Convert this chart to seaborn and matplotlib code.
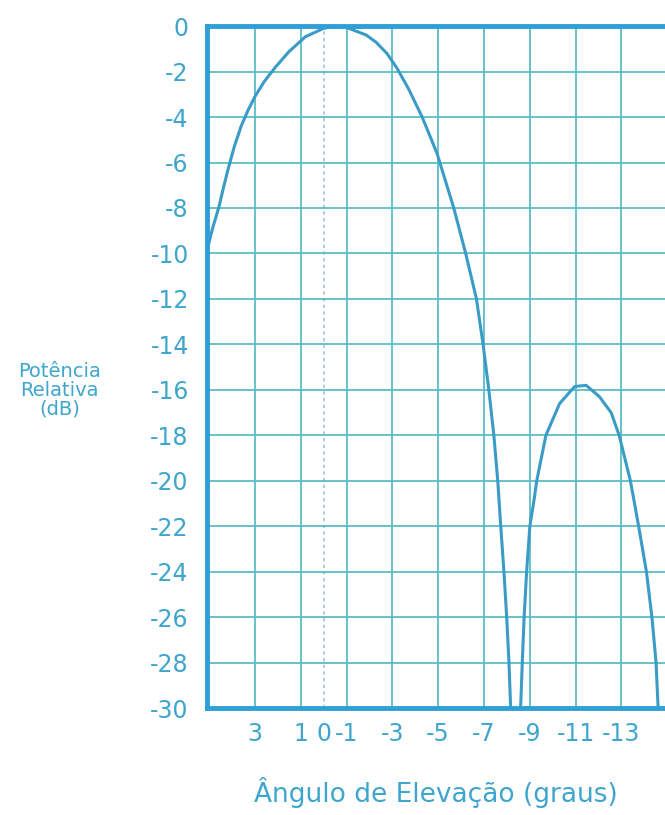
# plot.py
# Antenna elevation pattern: relative power (dB) vs elevation angle

import numpy as np
import pandas as pd
import seaborn as sns
import matplotlib.pyplot as plt

# Data

# Main lobe (angle in degrees, relative power in dB)
main_angle = [5.1, 4.85, 4.57, 4.36, 4.16, 3.9, 3.6, 3.3, 3.0, 2.6, 2.1, 1.52, 0.8,
              0.0, -0.5, -1.0, -1.87, -2.3, -2.76, -3.2, -3.7, -4.3, -4.95, -5.07,
              -5.68, -6.2, -6.67, -6.96, -7.21, -7.43, -7.6, -7.73, -7.87, -7.99,
              -8.09, -8.16, -8.2]
main_db = [-9.9, -8.9, -7.95, -7.05, -6.25, -5.3, -4.4, -3.7, -3.1, -2.45, -1.8, -1.13, -0.47,
           -0.1, 0.0, -0.06, -0.4, -0.72, -1.2, -1.85, -2.75, -4.0, -5.6, -6.0,
           -8.0, -10.0, -12.0, -14.0, -16.0, -18.0, -20.0, -22.0, -24.0, -26.0,
           -28.0, -29.9, -31.0]

# First side lobe
side_angle = [-8.56, -8.6, -8.67, -8.75, -8.86, -9.0, -9.19, -9.3, -9.7, -10.3, -10.96,
              -11.46, -12.04, -12.55, -12.9, -13.39, -13.75, -14.09, -14.33, -14.51,
              -14.6, -14.63]
side_db = [-31.0, -29.9, -28.0, -26.0, -24.0, -22.0, -20.8, -20.0, -18.0, -16.6, -15.85,
           -15.8, -16.3, -17.0, -18.0, -20.0, -22.0, -24.0, -26.0, -28.0,
           -30.0, -31.0]

x_ticks = [3, 1, 0, -1, -3, -5, -7, -9, -11, -13]
x_tick_labels = ['3', '1', '0', '-1', '-3', '-5', '-7', '-9', '-11', '-13']
y_ticks = list(range(0, -32, -2))

# Colours
spine_color = '#2f9fd8'
grid_color = '#5bbcc6'
curve_color = '#3a9cc6'
text_color = '#3ea6cc'

sns.set_style('white')
plt.rcParams['font.family'] = ['DejaVu Sans']

fig = plt.figure(figsize=(6.65, 8.15), dpi=100)
ax = fig.add_axes([0.311, 0.131, 0.689, 0.837])

main_df = pd.DataFrame({'angle': main_angle, 'db': main_db})
side_df = pd.DataFrame({'angle': side_angle, 'db': side_db})
sns.lineplot(data=main_df, x='angle', y='db', ax=ax, color=curve_color, linewidth=2.2)
sns.lineplot(data=side_df, x='angle', y='db', ax=ax, color=curve_color, linewidth=2.2)

ax.set_xlim(5.1, -14.9)
ax.set_ylim(-30, 0)

ax.set_xticks(x_ticks)
ax.set_xticklabels(x_tick_labels)
ax.set_yticks(y_ticks)
ax.set_yticklabels([str(v) for v in y_ticks])

# Grid: vertical at odd degrees, dotted line at zero
ax.grid(True, color=grid_color, linewidth=1.3)
for tick, line in zip(x_ticks, ax.xaxis.get_gridlines()):
    if tick == 0:
        line.set_linestyle((0, (2, 2)))
        line.set_color('#9fc6d6')
        line.set_linewidth(1.2)
ax.set_axisbelow(True)

ax.tick_params(axis='both', length=0, colors=text_color, labelsize=17)
ax.tick_params(axis='x', pad=10)
ax.tick_params(axis='y', pad=13)

for side in ['left', 'top', 'bottom']:
    ax.spines[side].set_color(spine_color)
    ax.spines[side].set_linewidth(3.5)
ax.spines['right'].set_visible(False)

ax.set_xlabel('Ângulo de Elevação (graus)', color=text_color, fontsize=19, labelpad=22)
ax.set_ylabel('')
fig.text(0.09, 0.521, 'Potência\nRelativa\n(dB)', color=text_color, fontsize=14,
         ha='center', va='center', linespacing=1.0)

plt.savefig('out.png', dpi=100)
